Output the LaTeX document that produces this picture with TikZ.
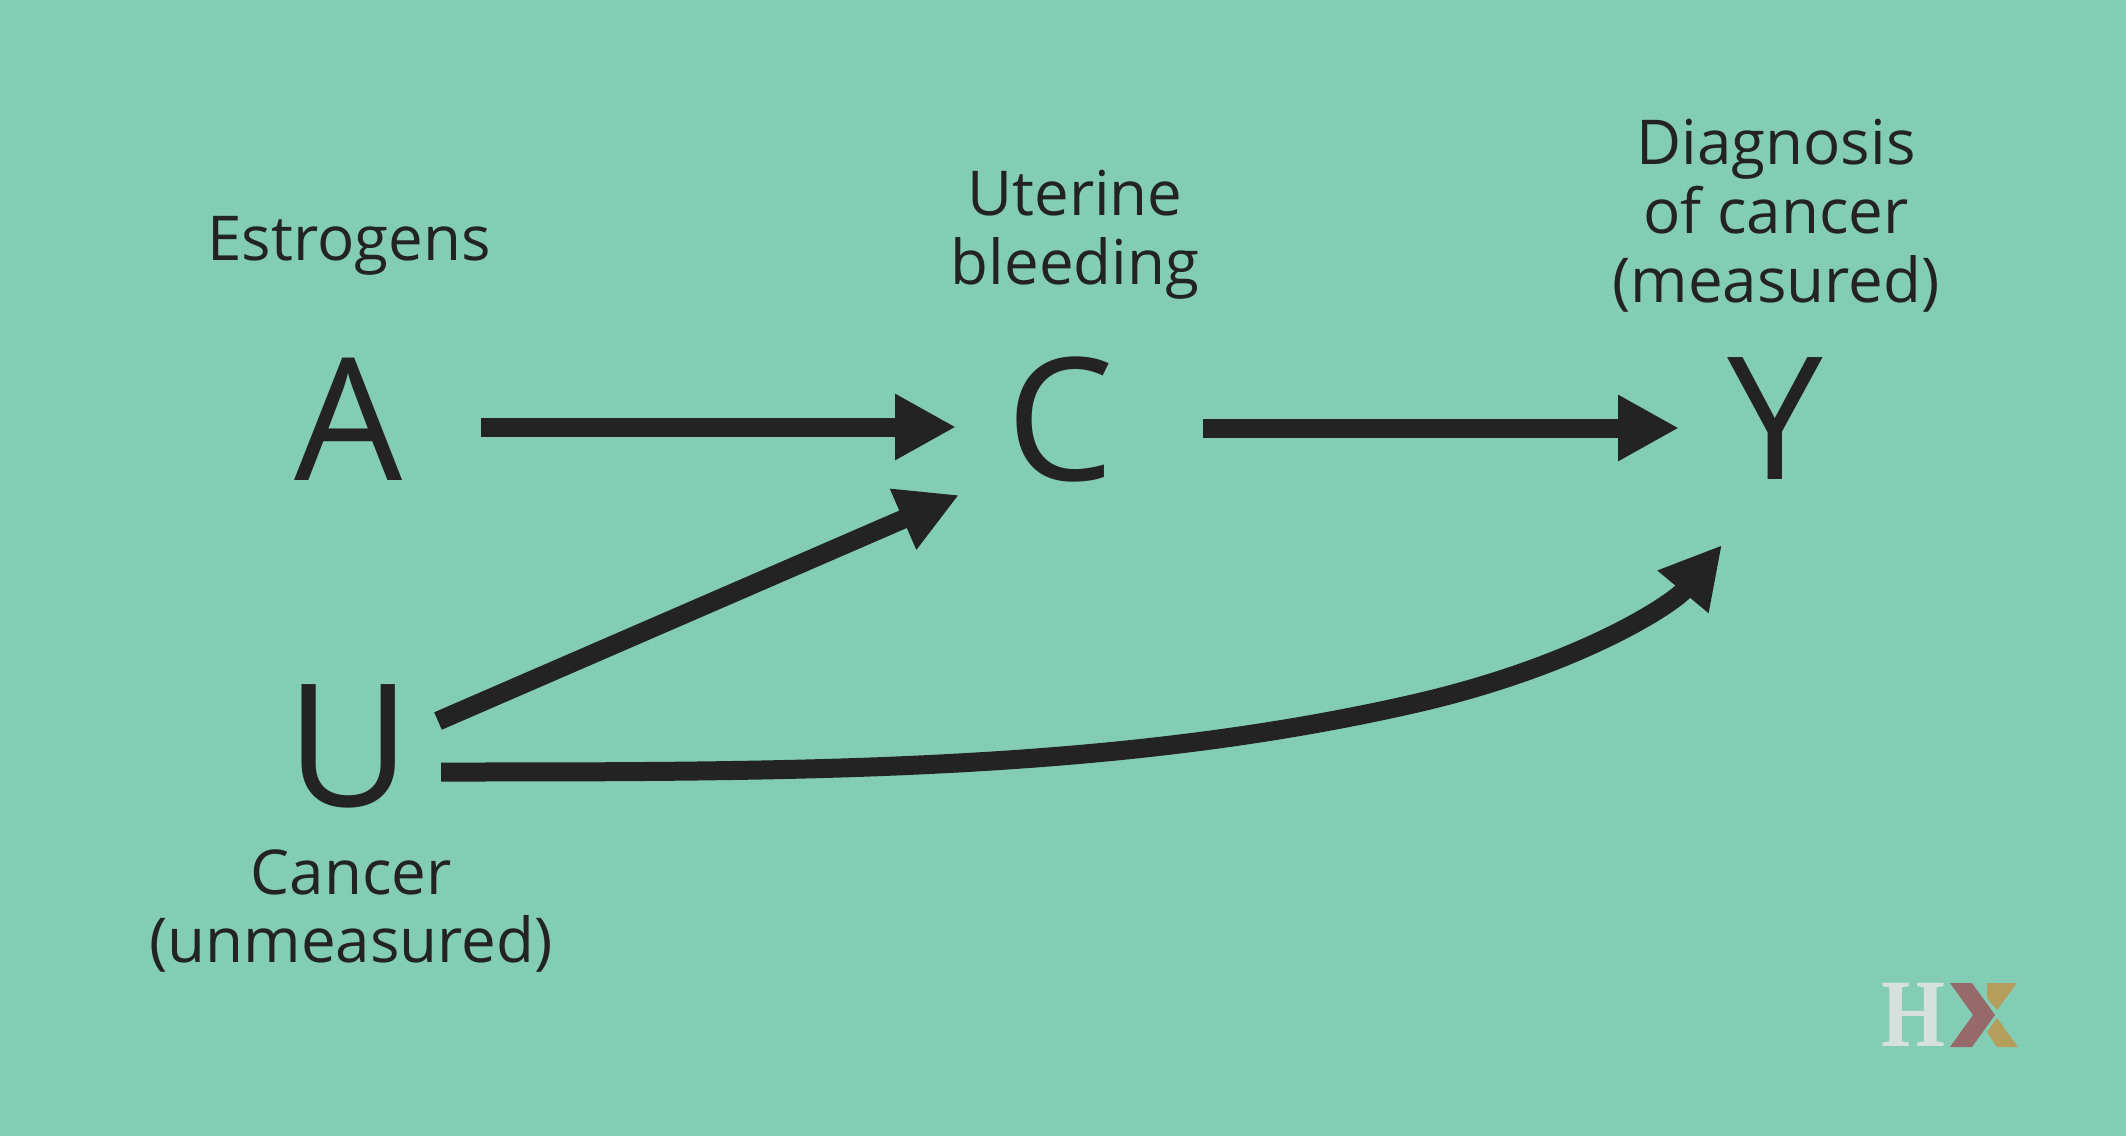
\documentclass[tikz,border=0pt]{standalone}
\usepackage{fontspec}
\setmainfont{Open Sans}
\newfontfamily\logofont{Liberation Serif}
\usetikzlibrary{arrows.meta}
\definecolor{bgreen}{HTML}{84CDB5}
\definecolor{ink}{HTML}{232323}
\definecolor{hxgrey}{HTML}{D6E0DD}
\definecolor{hxred}{HTML}{96696A}
\definecolor{hxgold}{HTML}{B59E5C}
\tikzset{
  letter/.style={inner sep=0pt,text=ink,font=\fontsize{48.6}{50}\selectfont},
  caption/.style={inner sep=0pt,text=ink,align=center,font=\fontsize{17.6}{19.6}\selectfont},
  link/.style={draw=ink,line width=0.19cm,-{Triangle[length=0.61cm,width=0.62cm]}}
}
\begin{document}
\begin{tikzpicture}
  \fill[bgreen] (0,0) rectangle (21.26,11.36);
  \useasboundingbox (0,0) rectangle (21.26,11.36);
  \node[letter] (A) at (3.49,7.17) {A};
  \node[letter] (C) at (10.60,7.17) {C};
  \node[letter] (Y) at (17.75,7.17) {Y};
  \node[letter] (U) at (3.49,3.90) {U};
  \node[caption] (estrogens) at (3.49,8.90) {Estrogens};
  \node[caption] (bleeding) at (10.75,9.01) {Uterine\\bleeding};
  \node[caption] (diagnosis) at (17.76,9.20) {Diagnosis\\of cancer\\(measured)};
  \node[caption] (cancer) at (3.51,2.25) {Cancer\\(unmeasured)};
  \coordinate (bend) at (14.17,4.33);
  \draw[link] ([shift={(1.32,-.08)}]A.center) -- ([shift={(-1.04,-.08)}]C.center);
  \draw[link] ([shift={(1.43,-.09)}]C.center) -- ([shift={(-.96,-.09)}]Y.center);
  \draw[link] ([shift={(.89,.25)}]U.center) -- ([shift={(-1.01,-.76)}]C.center);
  \draw[link] ([shift={(.92,-.26)}]U.center) .. controls +(3.6,0) and +(-3,-.69) .. (bend)
    .. controls +(1.6,.37) and +(-.5,-.6) .. ([shift={(-.53,-1.26)}]Y.center);
  % logo
  \node[inner sep=0pt,text=hxgrey,xscale=.85,font=\logofont\bfseries\fontsize{27.5}{28}\selectfont] (hx) at (19.13,1.21) {H};
  \fill[hxred] (19.50,1.53) -- (19.72,1.53) -- (19.95,1.21) -- (19.72,.89) -- (19.50,.89) -- (19.73,1.21) -- cycle;
  \fill[hxgold] (19.87,1.53) -- (20.17,1.53) -- (19.97,1.26) -- (19.87,1.38) -- cycle;
  \fill[hxgold] (19.87,1.04) -- (19.97,1.18) -- (20.18,.89) -- (19.97,.89) -- cycle;
\end{tikzpicture}
\end{document}
